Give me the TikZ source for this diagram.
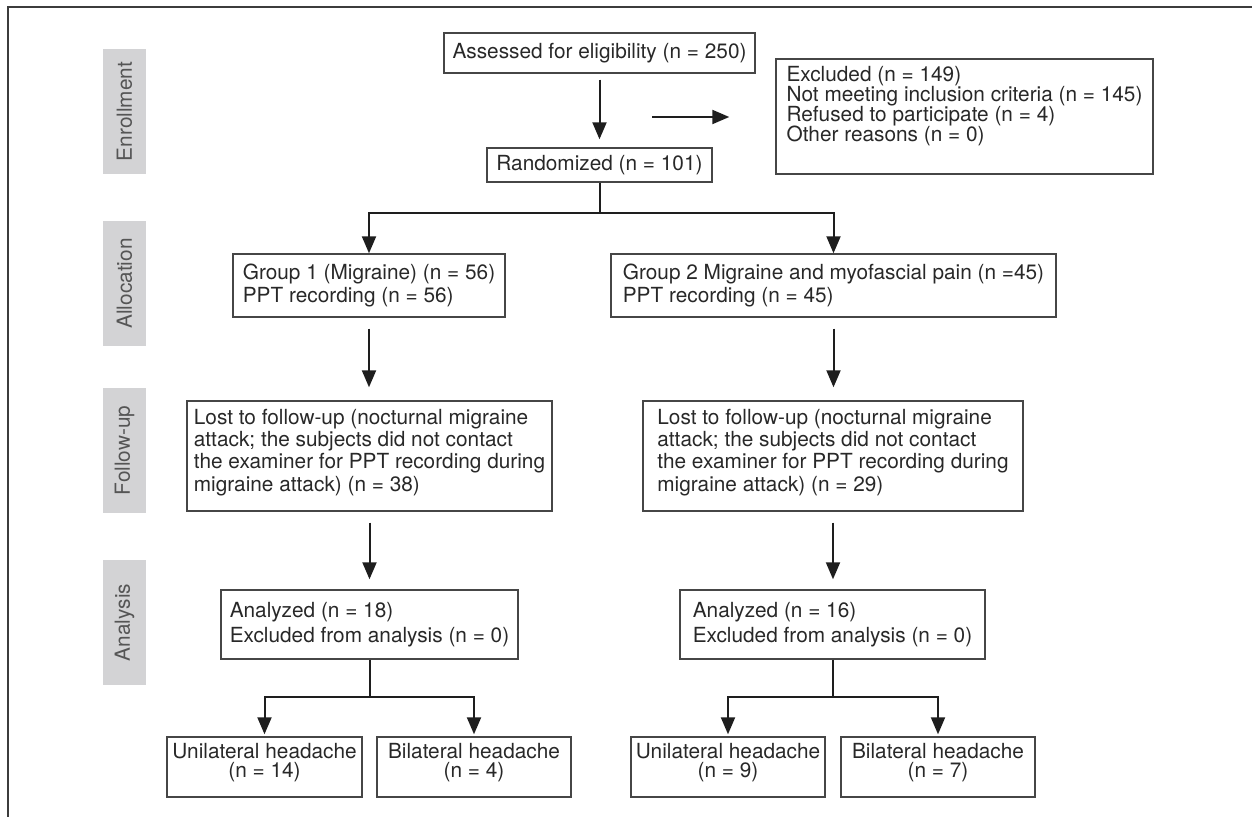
\documentclass[tikz,border=0pt]{standalone}
\usepackage{fontspec}
\setmainfont{TeX Gyre Heros}
\usetikzlibrary{arrows.meta}
\definecolor{rahmen}{RGB}{60,60,60}
\definecolor{kasten}{RGB}{70,70,70}
\definecolor{schrift}{RGB}{40,40,40}
\definecolor{pfeil}{RGB}{30,30,30}
\definecolor{phasegrau}{RGB}{211,211,213}
\definecolor{phasetext}{RGB}{85,85,85}
\newcommand{\boxfont}{\fontsize{10.4}{12}\selectfont}
% line strut: total height #1 pt, centred on the letters
\newcommand{\zs}[1]{\rule[\dimexpr(5.3pt-#1pt)/2\relax]{0pt}{#1pt}}

\begin{document}
\begin{tikzpicture}[x=0.5pt, y=-0.5pt, >={Triangle[length=8.5pt,width=7pt]},
    box/.style={draw=kasten, line width=0.7pt, text=schrift, inner sep=0pt, font=\boxfont\offinterlineskip},
    phase/.style={fill=phasegrau, text=phasetext, rotate=90, inner sep=0pt,
      minimum width=62.5pt, minimum height=21.5pt, font=\boxfont},
    link/.style={pfeil, line width=1pt}]

    \useasboundingbox (0,0) rectangle (1252,817);
    \draw[rahmen, line width=0.8pt] (1252,7) -- (8,7) -- (8,817);

    % phases
    \node[phase] (penroll) at (124.5,111.5) {Enrollment};
    \node[phase] (palloc)  at (124.5,283.5) {Allocation};
    \node[phase] (pfollow) at (124.5,450.5) {Follow-up};
    \node[phase] (panaly)  at (124.5,622.5) {Analysis};

    % enrollment
    \node[box, minimum width=155.5pt, minimum height=20pt] (assess) at (599.5,53) {Assessed for eligibility (n = 250)};
    \node[box, align=left, minimum width=188.5pt, minimum height=57.5pt] (excl) at (964.5,116.5)
        {\zs{9.2}Excluded (n = 149)\\\zs{9.2}Not meeting inclusion criteria (n = 145)\\\zs{9.2}Refused to participate (n = 4)\\\zs{9.2}Other reasons (n = 0)\\\rule{0pt}{10.5pt}};
    \node[box, minimum width=112.5pt, minimum height=17pt] (rand) at (599.5,165) {Randomized (n = 101)};

    % allocation
    \node[box, align=left, minimum width=136pt, minimum height=31.5pt] (grp1) at (369,285.5)
        {\zs{11.6}Group 1 (Migraine) (n = 56)\\\zs{11.6}PPT recording (n = 56)};
    \node[box, align=left, minimum width=222.5pt, minimum height=31.5pt] (grp2) at (833.5,285.5)
        {\zs{11.6}Group 2 Migraine and myofascial pain (n =45)\\\zs{11.6}PPT recording (n = 45)};

    % follow-up
    \node[box, align=left, minimum width=182.5pt, minimum height=55pt] (lost1) at (369.5,456)
        {\zs{11.1}Lost to follow-up (nocturnal migraine\\\zs{11.1}attack; the subjects did not contact\\\zs{11.1}the examiner for PPT recording during\\\zs{11.1}migraine attack) (n = 38)\\\rule{0pt}{3.5pt}};
    \node[box, align=left, minimum width=190pt, minimum height=55pt] (lost2) at (833,456)
        {\zs{11.1}Lost to follow-up (nocturnal migraine\\\zs{11.1}attack; the subjects did not contact\\\zs{11.1}the examiner for PPT recording during\\\zs{11.1}migraine attack) (n = 29)\\\rule{0pt}{3.5pt}};

    % analysis
    \node[box, align=left, minimum width=148.5pt, minimum height=34.5pt] (ana1) at (369.5,624.5)
        {\zs{12.5}Analyzed (n = 18)\\\zs{12.5}Excluded from analysis (n = 0)};
    \node[box, align=left, minimum width=152.5pt, minimum height=34.5pt] (ana2) at (832.5,624.5)
        {\zs{12.5}Analyzed (n = 16)\\\zs{12.5}Excluded from analysis (n = 0)};

    \node[box, align=center, minimum width=97.5pt, minimum height=30pt] (uni1) at (264.5,767) {\zs{9.6}Unilateral headache\\\zs{9.6}(n = 14)\\\rule{0pt}{4.5pt}};
    \node[box, align=center, minimum width=97pt, minimum height=30pt] (bil1) at (474,767) {\zs{9.6}Bilateral headache\\\zs{9.6}(n = 4)\\\rule{0pt}{4.5pt}};
    \node[box, align=center, minimum width=97pt, minimum height=30pt] (uni2) at (728,767) {\zs{9.6}Unilateral headache\\\zs{9.6}(n = 9)\\\rule{0pt}{4.5pt}};
    \node[box, align=center, minimum width=97pt, minimum height=30pt] (bil2) at (938,767) {\zs{9.6}Bilateral headache\\\zs{9.6}(n = 7)\\\rule{0pt}{4.5pt}};

    % connectors
    \draw[link, ->, shorten <=3pt, shorten >=4pt] (assess) -- (rand);
    \coordinate (exclfrom) at (652,117);
    \draw[link, ->, shorten >=23pt] (exclfrom) -- (exclfrom -| excl.west);

    \draw[link] (rand.south) -- ++(0,30) coordinate (randsplit);
    \draw[link, ->] (randsplit) -| (grp1.north);
    \draw[link, ->] (randsplit) -| (grp2.north);

    \draw[link, ->, shorten <=5.5pt, shorten >=6.5pt] (grp1.south) -- (grp1.south |- lost1.north);
    \draw[link, ->, shorten <=5.5pt, shorten >=6.5pt] (grp2.south) -- (grp2.south |- lost2.north);
    \draw[link, ->, shorten <=5.5pt, shorten >=5pt] (lost1.south) -- (lost1.south |- ana1.north);
    \draw[link, ->, shorten <=5.5pt, shorten >=5pt] (lost2.south) -- (lost2.south |- ana2.north);

    \draw[link] (ana1.south) -- ++(0,37) coordinate (ana1split);
    \draw[link, ->, shorten >=1pt] (ana1split) -| (uni1.north);
    \draw[link, ->, shorten >=1pt] (ana1split) -| (bil1.north);
    \draw[link] (ana2.south) -- ++(0,37) coordinate (ana2split);
    \draw[link, ->, shorten >=1pt] (ana2split) -| (uni2.north);
    \draw[link, ->, shorten >=1pt] (ana2split) -| (bil2.north);

\end{tikzpicture}
\end{document}
